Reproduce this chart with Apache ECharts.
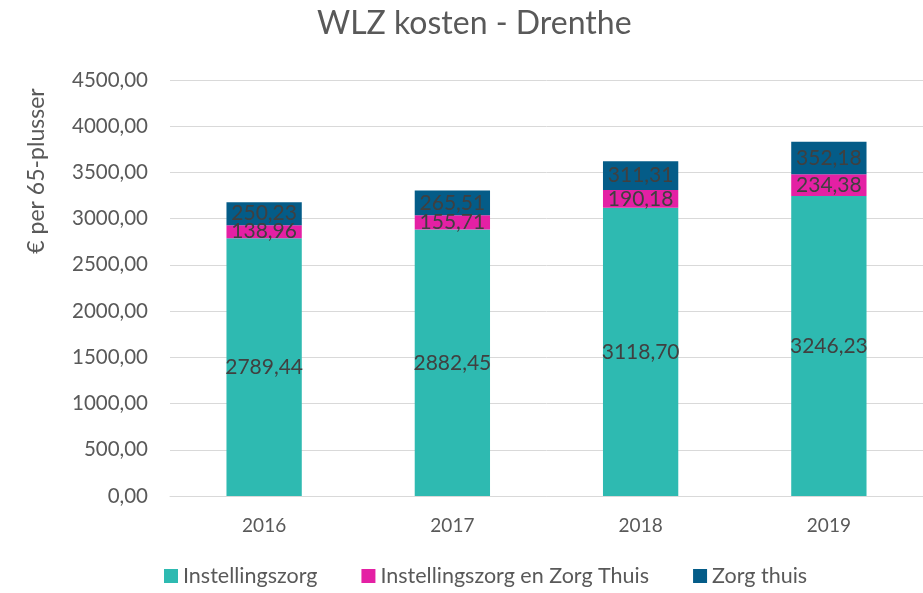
<!DOCTYPE html>
<html><head><meta charset="utf-8">
<script src="https://cdn.jsdelivr.net/npm/echarts@6/dist/echarts.min.js"></script>
<style>html,body{margin:0;padding:0;background:#fff}#c{width:923px;height:593px}</style>
</head><body><div id="c"></div>
<script>
const categories = ['2016','2017','2018','2019'];
const instellingszorg = [2789.44, 2882.45, 3118.70, 3246.23];
const instEnZorgThuis = [138.96, 155.71, 190.18, 234.38];
const zorgThuis = [250.23, 265.51, 311.31, 352.18];
const yTicks = [0, 500, 1000, 1500, 2000, 2500, 3000, 3500, 4000, 4500];

const fmt = v => v.toFixed(2).replace('.', ',');
const FONT = 'Lato, "Open Sans", sans-serif';
const lbl = {show:true, position:'inside', color:'#404040', fontSize:21, fontFamily:FONT, formatter:p=>fmt(p.value)};
const chart = echarts.init(document.getElementById('c'));
chart.setOption({
  animation:false,
  title:{text:'WLZ kosten - Drenthe', left:312, top:3, textStyle:{fontSize:32, fontWeight:'normal', color:'#595959', fontFamily:FONT}},
  grid:{left:170, right:0, top:80, bottom:97},
  legend:{bottom:1, left:159, itemWidth:14, itemHeight:14, itemGap:44, icon:'rect',
    textStyle:{fontSize:21.5, color:'#595959', fontFamily:FONT}},
  graphic:[{type:'text', x:37, y:171, rotation:Math.PI/2, style:{text:'€ per 65-plusser', fontSize:23, fill:'#595959', fontFamily:FONT, textAlign:'center', textVerticalAlign:'middle'}}],
  xAxis:{type:'category', data:categories, axisLine:{lineStyle:{color:'#d9d9d9'}}, axisTick:{show:false},
    axisLabel:{fontSize:19, color:'#595959', margin:20, fontFamily:FONT}},
  yAxis:{type:'value', min:yTicks[0], max:yTicks[yTicks.length-1], interval:500,
    axisLine:{show:false}, axisTick:{show:false},
    splitLine:{lineStyle:{color:'#d9d9d9', width:1}},
    axisLabel:{fontSize:20.5, color:'#595959', margin:22, fontFamily:FONT, formatter:v=>fmt(v)}},
  series:[
    {name:'Instellingszorg', type:'bar', stack:'a', data:instellingszorg, barWidth:'40%', itemStyle:{color:'#2EBAB1'}, label:lbl},
    {name:'Instellingszorg en Zorg Thuis', type:'bar', stack:'a', data:instEnZorgThuis, itemStyle:{color:'#E420A4'}, label:lbl},
    {name:'Zorg thuis', type:'bar', stack:'a', data:zorgThuis, itemStyle:{color:'#045C88'}, label:lbl}
  ]
});
</script></body></html>
